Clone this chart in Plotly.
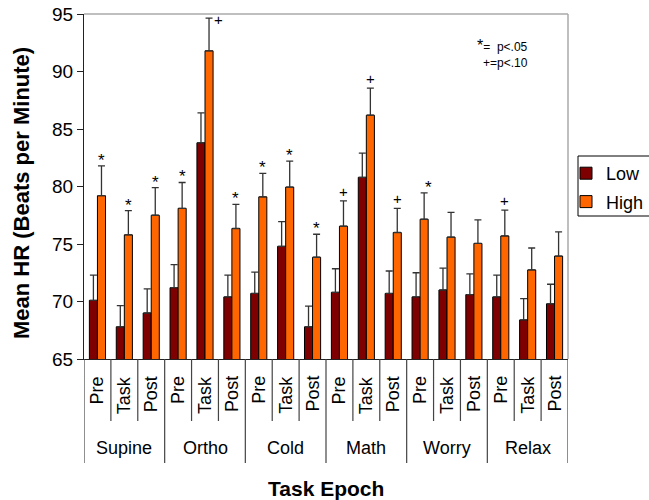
import plotly.graph_objects as go

groups = ["Supine", "Ortho", "Cold", "Math", "Worry", "Relax"]
epochs = ["Pre", "Task", "Post"]
low = [70.1, 67.8, 69.0, 71.2, 83.8, 70.4, 70.7, 74.8, 67.8,
       70.8, 80.8, 70.7, 70.4, 71.0, 70.6, 70.4, 68.4, 69.8]
low_err = [2.2, 1.85, 2.1, 2.0, 2.6, 1.9, 1.85, 2.15, 1.8,
           2.05, 2.1, 1.95, 2.1, 1.9, 1.8, 1.9, 1.85, 1.7]
high = [79.2, 75.8, 77.5, 78.1, 91.8, 76.35, 79.1, 79.95, 73.85,
        76.55, 86.2, 76.0, 77.15, 75.6, 75.05, 75.7, 72.75, 73.95]
high_err = [2.6, 2.1, 2.4, 2.25, 2.85, 2.1, 2.05, 2.25, 2.0,
            2.2, 2.35, 2.1, 2.3, 2.15, 2.05, 2.25, 1.9, 2.1]
sig = ["*", "*", "*", "*", "+", "*", "*", "*", "*",
       "+", "+", "+", "*", "", "", "+", "", ""]
yticks = [65, 70, 75, 80, 85, 90, 95]

FONT = "Liberation Sans, Arial, sans-serif"
n = len(low)
xs = list(range(n))

W, H = 649, 500
# plot area in window pixels
L, R, T, B = 84, 568, 14, 359


def py(p):  # pixel y -> paper
    return (B - p) / (B - T)


def px(p):  # pixel x -> paper
    return (p - L) / (R - L)


fig = go.Figure()
fig.add_trace(go.Bar(
    x=xs, y=low, name="Low", legendgroup="low",
    marker=dict(color="#7f0000", line=dict(color="black", width=1)),
    error_y=dict(type="data", symmetric=False, array=low_err,
                 arrayminus=[0] * n, color="#333333", thickness=1.3, width=3.5),
))
fig.add_trace(go.Bar(
    x=xs, y=high, name="High", legendgroup="high",
    marker=dict(color="#ff6600", line=dict(color="black", width=1)),
    error_y=dict(type="data", symmetric=False, array=high_err,
                 arrayminus=[0] * n, color="#333333", thickness=1.3, width=3.5),
))

annotations = []
bargap = 0.4
hoff = (1 - bargap) / 4
# significance markers
for i, s in enumerate(sig):
    if not s:
        continue
    top = high[i] + high_err[i]
    xshift = 0
    yshift = -6 if s == "*" else -1
    if i == 4:
        xshift, yshift = 9, -12
    if i == 12:
        xshift = 4
    annotations.append(dict(x=i + hoff, y=top, xref="x", yref="y", text=s,
                            showarrow=False, xanchor="center", yanchor="bottom",
                            xshift=xshift, yshift=yshift,
                            font=dict(family=FONT, size=17 if s == "*" else 15,
                                      color="black")))

# epoch labels (rotated)
for i in range(n):
    annotations.append(dict(x=i, y=py(374), xref="x", yref="paper",
                            text=epochs[i % 3], textangle=-90, showarrow=False,
                            xanchor="center", yanchor="top",
                            font=dict(family=FONT, size=18, color="black")))
# group labels
for g, name in enumerate(groups):
    annotations.append(dict(x=g * 3 + 1, y=py(448), xref="x", yref="paper",
                            text=name, showarrow=False, xanchor="center",
                            yanchor="middle",
                            font=dict(family=FONT, size=18, color="black")))
# axis titles
annotations.append(dict(x=0.5, y=py(488), xref="paper", yref="paper",
                        text="<b>Task Epoch</b>", showarrow=False,
                        xanchor="center", yanchor="middle",
                        font=dict(family=FONT, size=21, color="black")))
annotations.append(dict(x=px(21), y=py(193), xref="paper", yref="paper",
                        text="<b>Mean HR (Beats per Minute)</b>", textangle=-90,
                        showarrow=False, xanchor="center", yanchor="middle",
                        font=dict(family=FONT, size=22, color="black")))
# significance key
annotations.append(dict(x=px(530), y=py(45), xref="paper", yref="paper",
                        text="<span style='font-size:16px'>*</span>=  p&lt;.05",
                        showarrow=False, xanchor="right", yanchor="middle",
                        font=dict(family=FONT, size=12, color="black")))
annotations.append(dict(x=px(530), y=py(63), xref="paper", yref="paper",
                        text="+=p&lt;.10", showarrow=False,
                        xanchor="right", yanchor="middle",
                        font=dict(family=FONT, size=12, color="black")))

shapes = []
# plot frame (gray top/right)
shapes.append(dict(type="line", xref="paper", yref="paper", x0=0, x1=1, y0=1, y1=1,
                   line=dict(color="#aaaaaa", width=1.5)))
shapes.append(dict(type="line", xref="paper", yref="paper", x0=1, x1=1, y0=0, y1=1,
                   line=dict(color="#aaaaaa", width=1.5)))
# category separators
for k in range(n + 1):
    long = (k % 3 == 0)
    yb = py(463) if long else py(421)
    shapes.append(dict(type="line", xref="x", yref="paper", x0=k - 0.5, x1=k - 0.5,
                       y0=0, y1=yb, line=dict(color="#444444", width=1.2)))
# legend box
shapes.append(dict(type="rect", xref="paper", yref="paper",
                   x0=px(578), x1=px(660), y0=py(216), y1=py(156),
                   line=dict(color="black", width=1), fillcolor="rgba(0,0,0,0)"))

fig.update_layout(
    width=W, height=H, autosize=False,
    margin=dict(l=L, r=W - R, t=T, b=H - B, pad=0, autoexpand=False),
    paper_bgcolor="white", plot_bgcolor="white",
    barmode="group", bargap=bargap, bargroupgap=0,
    font=dict(family=FONT, color="black"),
    showlegend=True,
    legend=dict(x=px(566), y=py(155), xanchor="left", yanchor="top",
                font=dict(family=FONT, size=18, color="black"),
                bgcolor="rgba(0,0,0,0)", borderwidth=0,
                traceorder="grouped", tracegroupgap=2),
    xaxis=dict(range=[-0.5, n - 0.5], showticklabels=False, ticks="",
               showgrid=False, zeroline=False, showline=True, automargin=False,
               linecolor="#222222", linewidth=1.2),
    yaxis=dict(range=[65, 95], tickvals=yticks, ticks="outside", ticklen=6,
               tickcolor="#222222", tickwidth=1.2, showgrid=False, zeroline=False,
               showline=True, linecolor="#222222", linewidth=1.2, automargin=False,
               tickfont=dict(family=FONT, size=19, color="black")),
    annotations=annotations,
    shapes=shapes,
)

fig.write_html("out.html",
               config={"displayModeBar": False},
               post_script="document.body.style.margin='0';"
                           "document.body.style.overflow='hidden';")
